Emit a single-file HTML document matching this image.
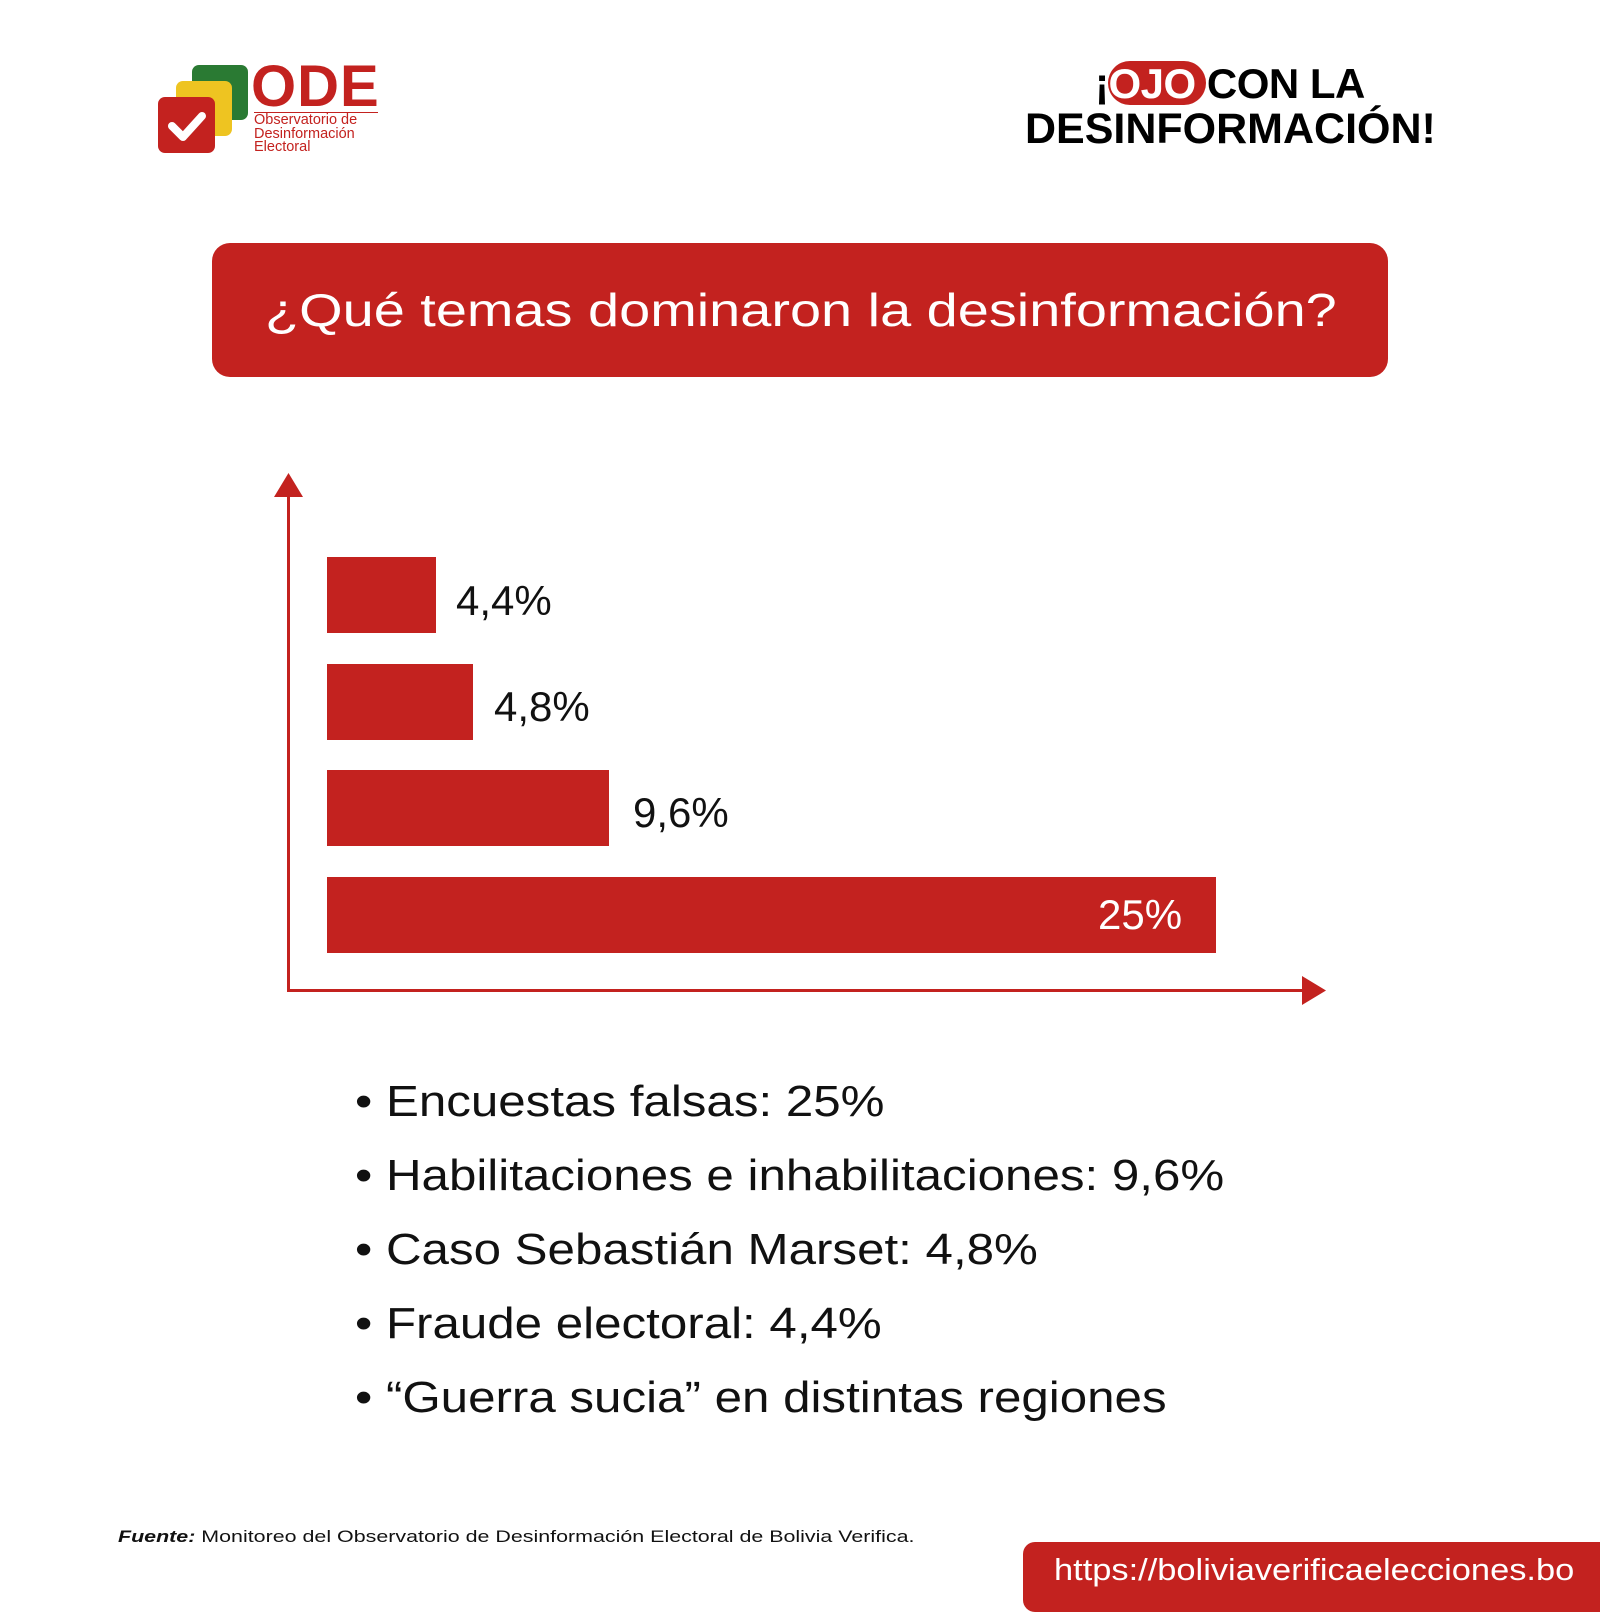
<!DOCTYPE html>
<html><head><meta charset="utf-8"><style>
body{margin:0;width:1600px;height:1600px;background:#fff;position:relative;overflow:hidden;font-family:"Liberation Sans",sans-serif}
.a{position:absolute}
.bar{position:absolute;background:#c3221f;left:327px}
.lbl{position:absolute;font-size:42px;color:#111;line-height:1}
.li{position:absolute;left:355px;font-size:44px;color:#111;line-height:1;white-space:nowrap;transform:scaleX(1.12);transform-origin:0 0}
</style></head><body>
<!-- logo -->
<div class="a" style="left:192px;top:65px;width:56px;height:55px;background:#2a7a33;border-radius:7px"></div>
<div class="a" style="left:176px;top:81px;width:56px;height:55px;background:#eec421;border-radius:7px"></div>
<div class="a" style="left:158px;top:97px;width:57px;height:56px;background:#c3221f;border-radius:7px"></div>
<svg class="a" style="left:158px;top:97px" width="57" height="56"><path d="M14 29 L25 40 L44 19" stroke="#fff" stroke-width="8" fill="none" stroke-linecap="round" stroke-linejoin="round"/></svg>
<div class="a" style="left:251px;top:58px;font-size:58px;font-weight:bold;color:#c3221f;line-height:1;letter-spacing:1px">ODE</div>
<div class="a" style="left:254px;top:112px;width:124px;height:1px;background:#c3221f"></div>
<div class="a" style="left:254px;top:114px;font-size:14.5px;color:#c3221f;line-height:13.5px">Observatorio de<br>Desinformación<br>Electoral</div>
<!-- right title -->
<div class="a" style="left:1108px;top:61px;width:98px;height:44px;background:#c3221f;border-radius:22px"></div>
<div class="a" style="left:1095px;top:62px;font-size:42px;font-weight:900;line-height:44px;color:#000;letter-spacing:-0.5px">¡<span style="color:#fff">OJO</span>&nbsp;CON LA</div>
<div class="a" style="left:1025px;top:107px;font-size:43px;font-weight:900;line-height:44px;color:#000;letter-spacing:0px">DESINFORMACIÓN!</div>
<!-- header box -->
<div class="a" style="left:212px;top:243px;width:1176px;height:134px;background:#c3221f;border-radius:18px"></div>
<div class="a" style="left:265px;top:243px;height:134px;line-height:134px;color:#fff;font-size:46px;white-space:nowrap;transform:scaleX(1.215);transform-origin:0 0">¿Qué temas dominaron la desinformación?</div>
<!-- axes -->
<svg class="a" style="left:0;top:0" width="1600" height="1600">
<line x1="288.5" y1="490" x2="288.5" y2="991" stroke="#c3221f" stroke-width="3"/>
<polygon points="274,497 288.5,473 303,497" fill="#c3221f"/>
<line x1="287" y1="990.5" x2="1305" y2="990.5" stroke="#c3221f" stroke-width="3"/>
<polygon points="1302,976 1326,990.5 1302,1005" fill="#c3221f"/>
</svg>
<div class="bar" style="top:557px;width:109px;height:76px"></div>
<div class="bar" style="top:664px;width:146px;height:76px"></div>
<div class="bar" style="top:770px;width:282px;height:76px"></div>
<div class="bar" style="top:877px;width:889px;height:76px"></div>
<div class="lbl" style="left:456px;top:580px">4,4%</div>
<div class="lbl" style="left:494px;top:686px">4,8%</div>
<div class="lbl" style="left:633px;top:792px">9,6%</div>
<div class="lbl" style="left:1098px;top:894px;color:#fff">25%</div>
<!-- list -->
<div class="li" style="top:1080px">• Encuestas falsas: 25%</div>
<div class="li" style="top:1154px">• Habilitaciones e inhabilitaciones: 9,6%</div>
<div class="li" style="top:1228px">• Caso Sebastián Marset: 4,8%</div>
<div class="li" style="top:1302px">• Fraude electoral: 4,4%</div>
<div class="li" style="top:1376px">• “Guerra sucia” en distintas regiones</div>
<div class="a" style="left:118px;top:1527px;font-size:17px;color:#111;white-space:nowrap;transform:scaleX(1.26);transform-origin:0 0"><b><i>Fuente:</i></b> Monitoreo del Observatorio de Desinformación Electoral de Bolivia Verifica.</div>
<div class="a" style="left:1023px;top:1542px;width:600px;height:70px;background:#c3221f;border-radius:12px"></div>
<div class="a" style="left:1054px;top:1552px;font-size:31px;color:#fff;line-height:36px;white-space:nowrap;transform:scaleX(1.11);transform-origin:0 0">https://boliviaverificaelecciones.bo</div>
</body></html>
